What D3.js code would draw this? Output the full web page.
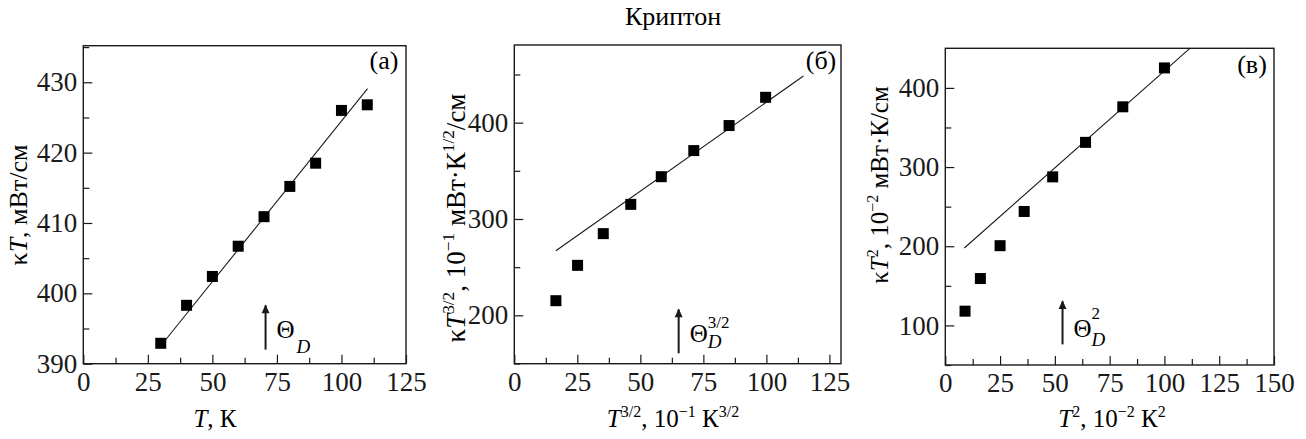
<!DOCTYPE html>
<html>
<head>
<meta charset="utf-8">
<script src="https://cdn.jsdelivr.net/npm/d3@7"></script>
<style>
  body { margin: 0; background: #fff; }
  svg, svg text, svg tspan { font-family: "Liberation Serif", "DejaVu Serif", serif !important; }
</style>
</head>
<body>
<svg id="chart" width="1306" height="439"></svg>
<script>
const font = '"Liberation Serif", "DejaVu Serif", serif'
const fs = 25
const tickFs = 27
const ink = '#1a1a1a'

const title = 'Криптон'
const panelTags = ['(a)', '(б)', '(в)']

// panel (a): kT vs T
const xA = [30, 40, 50, 60, 70, 80, 90, 100, 110]
const yA = [392.9, 398.3, 402.4, 406.7, 410.9, 415.2, 418.5, 426.0, 426.8]
const fitA = [[31.9, 393.4], [110.1, 429.1]]
// panel (b): kT^3/2 vs T^3/2
const xB = [16.5, 25.1, 35.3, 46.2, 58.3, 71.2, 85.2, 99.7]
const yB = [215.2, 251.9, 284.8, 315.2, 343.9, 371.0, 397.0, 426.3]
const fitB = [[16.5, 267.1], [114.7, 448.4]]
// panel (c): kT^2 vs T^2
const xC = [9, 16, 25, 36, 49, 64, 81, 100]
const yC = [118.0, 159.2, 200.7, 243.9, 287.6, 331.2, 376.1, 425.2]
const fitC = [[8.7, 197.8], [111.6, 450]]

// Debye temperature arrows (x, y from, y to)
const arrowX = [70.6, 65.2, 53.5]
const arrowY = [[392.0, 398.3], [160.6, 206.2], [76, 130.6]]

const xTicksA = [0, 25, 50, 75, 100, 125]
const xTicksB = [0, 25, 50, 75, 100, 125]
const xTicksC = [0, 25, 50, 75, 100, 125, 150]
const yTicksA = [390, 400, 410, 420, 430]
const yTicksB = [200, 300, 400]
const yTicksC = [100, 200, 300, 400]

const svg = d3.select('#chart').style('font-family', font)

svg.append('text')
  .attr('x', 673).attr('y', 25)
  .attr('text-anchor', 'middle')
  .attr('font-size', 26)
  .text(title)

// rich text: segments {t, i (italic), sup, sub}
function rich(sel, segs, size) {
  let shift = 0
  segs.forEach(s => {
    const ts = sel.append('tspan').text(s.t)
    if (s.i) ts.attr('font-style', 'italic')
    let target = 0
    if (s.sup) target = -size * 0.42
    if (s.sub) target = size * 0.25
    if (s.sup || s.sub) ts.attr('font-size', size * 0.64)
    ts.attr('dy', target - shift)
    shift = target
  })
  return sel
}

const nb = '\u00a0'
const panels = [
  {
    box: [83.3, 406, 45.7, 363.7], xd: [0, 125], yd: [390, 435.2],
    xs: xA, ys: yA, fit: fitA, xt: xTicksA, yt: yTicksA, xminor: 12.5, yminor: 5,
    tag: panelTags[0], tagPos: [384, 69],
    ylab: [{t: 'κ'}, {t: 'T', i: 1}, {t: ', мВт/см'}], ylabPos: [27, 205], ylabFs: 26,
    xlab: [{t: 'T', i: 1}, {t: ', К'}], xlabPos: [215, 427],
    sup: null, th: [11, -12], dd: [31, 3], ss: [31, -25]
  },
  {
    box: [514.3, 841, 45, 363.7], xd: [0, 129.6], yd: [149.8, 480.6],
    xs: xB, ys: yB, fit: fitB, xt: xTicksB, yt: yTicksB, xminor: 12.5, yminor: 50,
    tag: panelTags[1], tagPos: [821, 69],
    ylab: [{t: 'κ'}, {t: 'T', i: 1}, {t: '3/2', sup: 1}, {t: ',' + nb + '10'}, {t: '−1', sup: 1}, {t: nb + 'мВт·К'}, {t: '1/2', sup: 1}, {t: '/см'}], ylabPos: [465, 218], ylabFs: 27,
    xlab: [{t: 'T', i: 1}, {t: '3/2', sup: 1}, {t: ', 10'}, {t: '−1', sup: 1}, {t: ' К'}, {t: '3/2', sup: 1}], xlabPos: [673, 427],
    sup: '3/2', th: [11, -11], dd: [29, -5], ss: [29, -25]
  },
  {
    box: [945.3, 1274, 48.3, 365], xd: [0, 150], yd: [50, 450],
    xs: xC, ys: yC, fit: fitC, xt: xTicksC, yt: yTicksC, xminor: 12.5, yminor: 50,
    tag: panelTags[2], tagPos: [1252, 73],
    ylab: [{t: 'κ'}, {t: 'T', i: 1}, {t: '2', sup: 1}, {t: ', 10'}, {t: '−2', sup: 1}, {t: ' мВт·К/см'}], ylabPos: [888, 185], ylabFs: 25,
    xlab: [{t: 'T', i: 1}, {t: '2', sup: 1}, {t: ', 10'}, {t: '−2', sup: 1}, {t: ' К'}, {t: '2', sup: 1}], xlabPos: [1112, 427],
    sup: '2', th: [11, -7], dd: [29, 2], ss: [29, -25]
  }
]

svg.append('defs').append('marker')
  .attr('id', 'head')
  .attr('viewBox', '0 0 10 10')
  .attr('refX', 9).attr('refY', 5)
  .attr('markerWidth', 7.5).attr('markerHeight', 4.4)
  .attr('orient', 'auto')
  .append('path').attr('d', 'M0,0.5 L10,5 L0,9.5 z').attr('fill', ink)

panels.forEach((p, k) => {
  const [l, r, t, b] = p.box
  const x = d3.scaleLinear().domain(p.xd).range([l, r])
  const y = d3.scaleLinear().domain(p.yd).range([b, t])
  const g = svg.append('g')

  // ticks: major + minor, pointing inwards
  const xAll = d3.range(p.xd[0], p.xd[1] + 0.01, p.xminor)
  const yAll = d3.range(Math.ceil(p.yd[0] / p.yminor) * p.yminor, p.yd[1], p.yminor)
  const isMaj = (v, arr) => arr.some(m => Math.abs(m - v) < 1e-6)

  const xAxis = g.append('g').attr('transform', `translate(0,${b})`)
    .call(d3.axisBottom(x).tickValues(xAll).tickSize(0).tickPadding(8)
      .tickFormat(v => isMaj(v, p.xt) ? d3.format('d')(v) : ''))
  xAxis.attr('font-family', null)
  xAxis.select('.domain').remove()
  xAxis.selectAll('.tick line')
    .attr('y2', v => isMaj(v, p.xt) ? -9 : -6)
    .attr('stroke', ink).attr('stroke-width', 1.2)
  xAxis.selectAll('text').attr('font-size', tickFs).style('font-family', font).attr('fill', ink)

  const yAxis = g.append('g').attr('transform', `translate(${l},0)`)
    .call(d3.axisLeft(y).tickValues(yAll).tickSize(0).tickPadding(6)
      .tickFormat(v => isMaj(v, p.yt) ? d3.format('d')(v) : ''))
  yAxis.attr('font-family', null)
  yAxis.select('.domain').remove()
  yAxis.selectAll('.tick line')
    .attr('x2', v => isMaj(v, p.yt) ? 9 : 6)
    .attr('stroke', ink).attr('stroke-width', 1.2)
  yAxis.selectAll('text').attr('font-size', tickFs).style('font-family', font).attr('fill', ink)

  // frame
  g.append('rect')
    .attr('x', l).attr('y', t).attr('width', r - l).attr('height', b - t)
    .attr('fill', 'none').attr('stroke', ink).attr('stroke-width', 1.4)

  // fit line
  g.append('line')
    .attr('x1', x(p.fit[0][0])).attr('y1', y(p.fit[0][1]))
    .attr('x2', x(p.fit[1][0])).attr('y2', y(p.fit[1][1]))
    .attr('stroke', ink).attr('stroke-width', 1.1)

  // data squares
  const sz = 11
  g.selectAll('rect.pt')
    .data(p.xs.map((v, i) => [v, p.ys[i]]))
    .enter().append('rect')
    .attr('class', 'pt')
    .attr('x', d => x(d[0]) - sz / 2)
    .attr('y', d => y(d[1]) - sz / 2)
    .attr('width', sz).attr('height', sz)
    .attr('fill', '#000')

  // arrow
  const ax = x(arrowX[k])
  g.append('line')
    .attr('x1', ax).attr('y1', y(arrowY[k][0]))
    .attr('x2', ax).attr('y2', y(arrowY[k][1]))
    .attr('stroke', ink).attr('stroke-width', 2)
    .attr('marker-end', 'url(#head)')
  const ay = y(arrowY[k][0])
  g.append('text').attr('x', ax + p.th[0]).attr('y', ay + p.th[1])
    .attr('font-size', 25).text('Θ')
  g.append('text').attr('x', ax + p.dd[0]).attr('y', ay + p.dd[1])
    .attr('font-size', 19).attr('font-style', 'italic').text('D')
  if (p.sup) {
    g.append('text').attr('x', ax + p.ss[0]).attr('y', ay + p.ss[1])
      .attr('font-size', 17).text(p.sup)
  }

  // panel tag
  g.append('text').attr('x', p.tagPos[0]).attr('y', p.tagPos[1])
    .attr('text-anchor', 'middle').attr('font-size', 26).text(p.tag)

  // axis titles
  rich(g.append('text')
    .attr('transform', `translate(${p.ylabPos[0]},${p.ylabPos[1]}) rotate(-90)`)
    .attr('text-anchor', 'middle').attr('font-size', p.ylabFs), p.ylab, p.ylabFs)
  rich(g.append('text')
    .attr('x', p.xlabPos[0]).attr('y', p.xlabPos[1])
    .attr('text-anchor', 'middle').attr('font-size', fs), p.xlab, fs)
})
</script>
</body>
</html>
